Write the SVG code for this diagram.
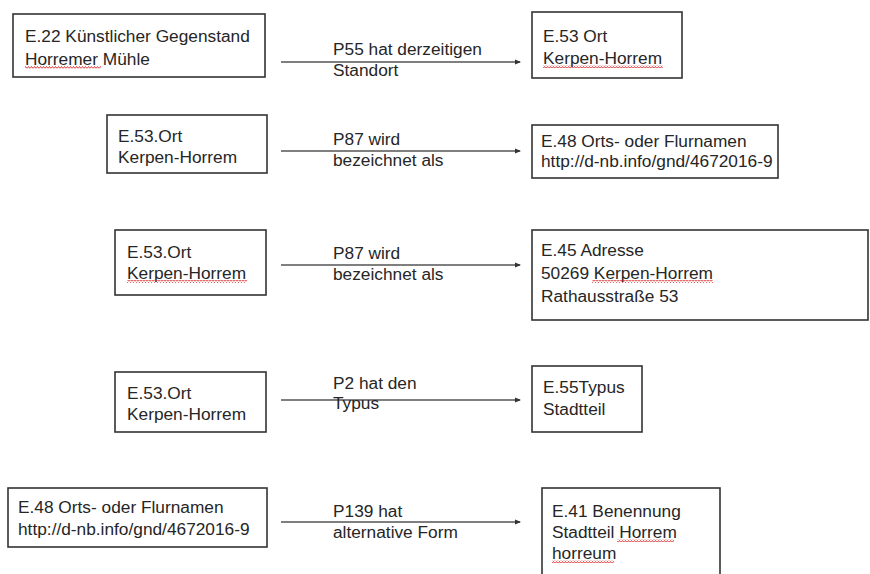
<svg xmlns="http://www.w3.org/2000/svg" width="870" height="574" viewBox="0 0 870 574">
<style>
.box{fill:#fff;stroke:#333;stroke-width:1.6}
.t{font-family:"Liberation Sans",Arial,Helvetica,sans-serif;font-size:17.3px;fill:#262626}
.edge{stroke:#555;stroke-width:1.4;fill:none;marker-end:url(#ah)}
</style>
<defs>
<marker id="ah" viewBox="0 0 6 6" refX="5" refY="3" markerWidth="6" markerHeight="6" markerUnits="userSpaceOnUse" orient="auto">
<path d="M0,0.5 L6,3 L0,5.5 Z" fill="#333"/>
</marker>
<pattern id="sq" width="3" height="3" patternUnits="userSpaceOnUse">
<polyline points="0,2.5 1.5,0.5 3,2.5" fill="none" stroke="#d22" stroke-width="0.9"/>
</pattern>
</defs>
<rect width="870" height="574" fill="#fff"/>

<g id="connectors">
<path class="edge" d="M281,62 H520"/>
<path class="edge" d="M281,151 H520"/>
<path class="edge" d="M281,265 H520"/>
<path class="edge" d="M281,400 H520"/>
<path class="edge" d="M281,522 H520"/>
<text class="t" x="333" y="55">P55 hat derzeitigen</text>
<text class="t" x="333" y="76">Standort</text>
<text class="t" x="333" y="145">P87 wird</text>
<text class="t" x="333" y="166">bezeichnet als</text>
<text class="t" x="333" y="259">P87 wird</text>
<text class="t" x="333" y="280">bezeichnet als</text>
<text class="t" x="333" y="389">P2 hat den</text>
<text class="t" x="333" y="409">Typus</text>
<text class="t" x="333" y="517">P139 hat</text>
<text class="t" x="333" y="538">alternative Form</text>
</g>

<g id="n1">
<rect class="box" x="13" y="14" width="252" height="63"/>
<text class="t" x="25" y="42">E.22 Künstlicher Gegenstand</text>
<text class="t" x="25" y="65">Horremer Mühle</text>
<rect x="25" y="66" width="76" height="3" fill="url(#sq)"/>
</g>

<g id="n2">
<rect class="box" x="532" y="12" width="150" height="66"/>
<text class="t" x="543" y="42">E.53 Ort</text>
<text class="t" x="543" y="64">Kerpen-Horrem</text>
<rect x="543" y="65" width="120" height="3" fill="url(#sq)"/>
</g>

<g id="n3">
<rect class="box" x="107" y="115" width="160" height="58"/>
<text class="t" x="118" y="142">E.53.Ort</text>
<text class="t" x="118" y="163">Kerpen-Horrem</text>
</g>

<g id="n4">
<rect class="box" x="532" y="125" width="246" height="53"/>
<text class="t" x="541" y="147">E.48 Orts- oder Flurnamen</text>
<text class="t" x="541" y="167">http://d-nb.info/gnd/4672016-9</text>
</g>

<g id="n5">
<rect class="box" x="115" y="230" width="151" height="65"/>
<text class="t" x="127" y="258">E.53.Ort</text>
<text class="t" x="127" y="279">Kerpen-Horrem</text>
<rect x="127" y="280" width="120" height="3" fill="url(#sq)"/>
</g>

<g id="n6">
<rect class="box" x="532" y="230" width="336" height="90"/>
<text class="t" x="541" y="256">E.45 Adresse</text>
<text class="t" x="541" y="279">50269 Kerpen-Horrem</text>
<rect x="592" y="280" width="121" height="3" fill="url(#sq)"/>
<text class="t" x="541" y="302">Rathausstraße 53</text>
</g>

<g id="n7">
<rect class="box" x="115" y="372" width="151" height="60"/>
<text class="t" x="127" y="399">E.53.Ort</text>
<text class="t" x="127" y="420">Kerpen-Horrem</text>
</g>

<g id="n8">
<rect class="box" x="532" y="366" width="110" height="66"/>
<text class="t" x="543" y="393">E.55Typus</text>
<text class="t" x="543" y="415">Stadtteil</text>
</g>

<g id="n9">
<rect class="box" x="8" y="488" width="259" height="59"/>
<text class="t" x="18" y="513">E.48 Orts- oder Flurnamen</text>
<text class="t" x="18" y="535">http://d-nb.info/gnd/4672016-9</text>
</g>

<g id="n10">
<rect class="box" x="542" y="488" width="178" height="100"/>
<text class="t" x="552" y="517">E.41 Benennung</text>
<text class="t" x="552" y="538">Stadtteil Horrem</text>
<rect x="617" y="539" width="57" height="3" fill="url(#sq)"/>
<text class="t" x="552" y="559">horreum</text>
<rect x="552" y="560" width="62" height="3" fill="url(#sq)"/>
</g>
</svg>
